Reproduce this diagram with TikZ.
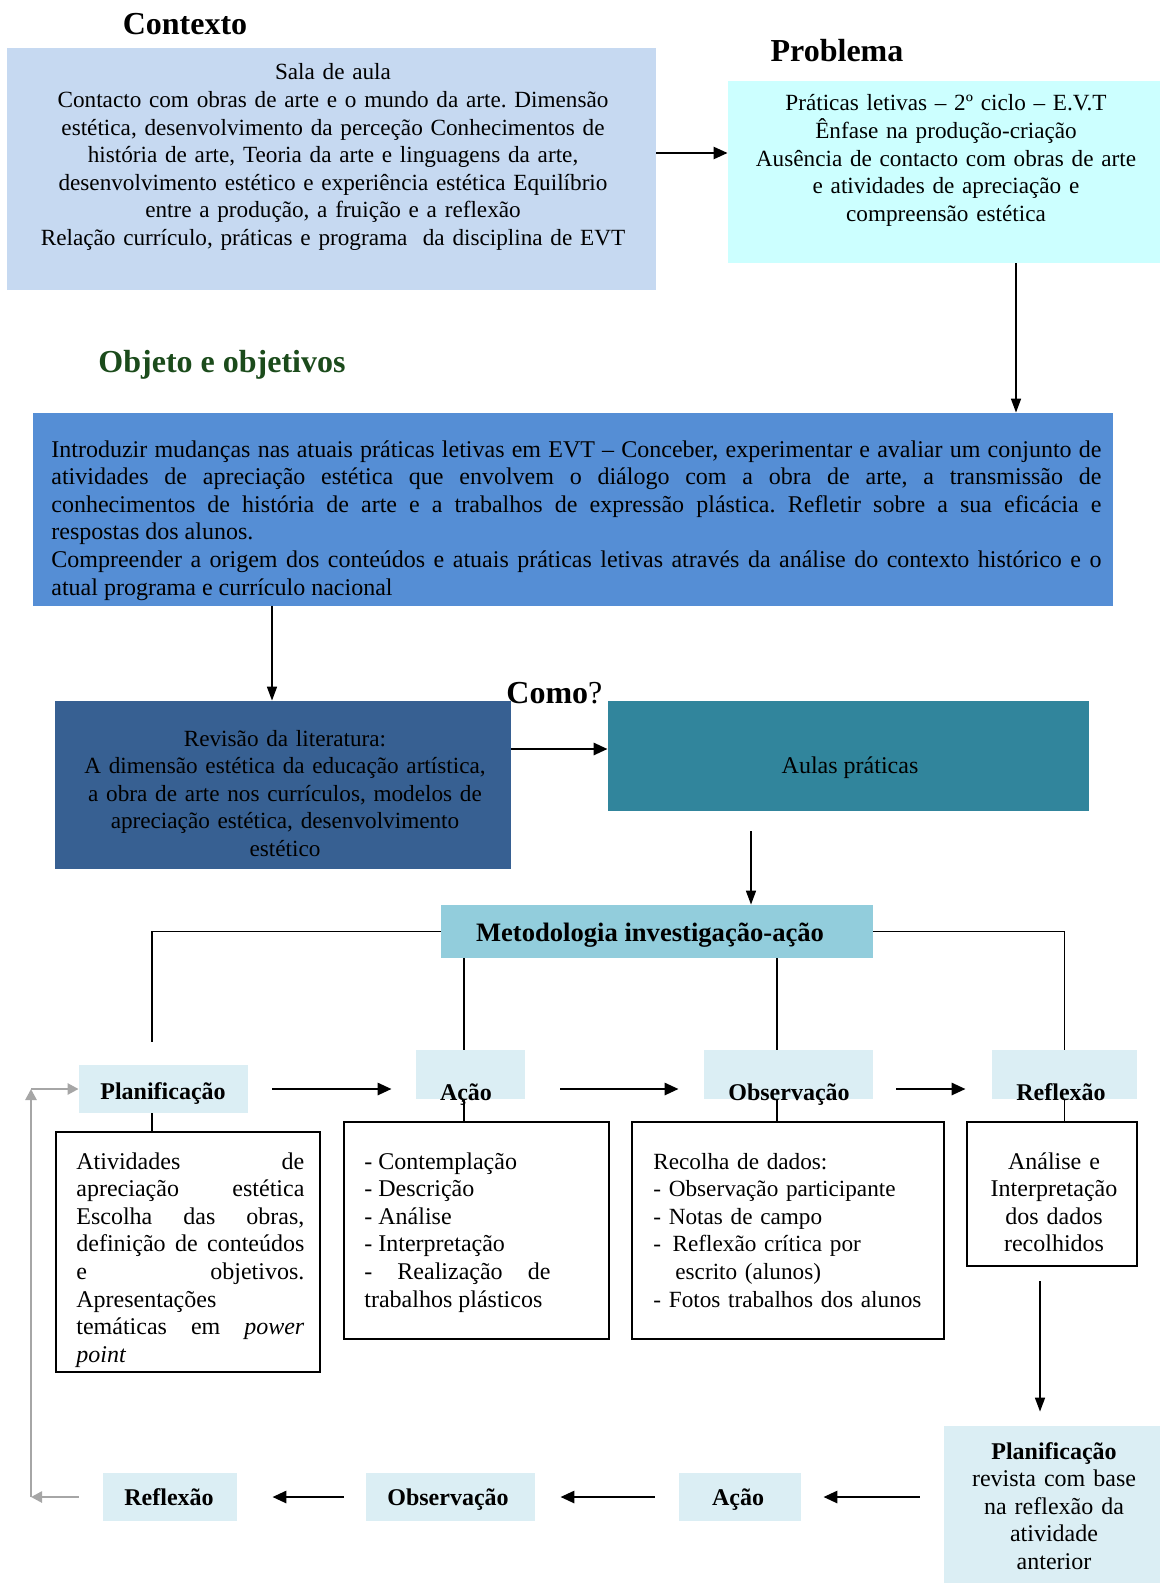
\documentclass[tikz,border=0pt]{standalone}
\usepackage{fontspec}
\setmainfont{Liberation Serif}
\usetikzlibrary{arrows.meta}
\setlength{\parindent}{0pt}
\hyphenpenalty=10000
\exhyphenpenalty=10000
\frenchspacing

\definecolor{ctxfill}{HTML}{C6D9F1}
\definecolor{probfill}{HTML}{CCFFFF}
\definecolor{objfill}{HTML}{558ED5}
\definecolor{revfill}{HTML}{376092}
\definecolor{aulafill}{HTML}{31859C}
\definecolor{metfill}{HTML}{92CDDC}
\definecolor{stagefill}{HTML}{DBEEF4}
\definecolor{titlegreen}{HTML}{1B4B1B}
\definecolor{loopgray}{HTML}{A6A6A6}

\tikzset{
  panel/.style={rectangle, inner sep=0pt, draw=none},
  stage/.style={panel, fill=stagefill},
  frame/.style={rectangle, inner sep=0pt, draw=black, line width=1pt, fill=white},
  body/.style={inner sep=0pt, font=\fontsize{12}{13.8}\selectfont},
  narrowbody/.style={inner sep=0pt, font=\fontsize{11.6}{13.8}\selectfont},
  heading/.style={inner sep=0pt, font=\fontsize{16}{18}\selectfont\bfseries},
  stagetext/.style={inner sep=0pt, font=\fontsize{12}{13.8}\selectfont\bfseries, anchor=base},
  link/.style={line width=0.75pt},
  flow/.style={line width=1.4pt, -{Triangle[length=7pt,width=6pt]}},
  drop/.style={line width=0.8pt, -{Triangle[length=7pt,width=5pt]}},
  loop/.style={line width=1.3pt, draw=loopgray, -{Triangle[length=5.5pt,width=5.5pt]}},
}

\begin{document}
\begin{tikzpicture}[x=0.5pt,y=-0.5pt]
\useasboundingbox (0,0) rectangle (1160,1583);

% section headings
\node[heading, anchor=base] (hctx) at (185,35) {Contexto};
\node[heading, anchor=base] (hprob) at (837,62) {Problema};
\node[heading, anchor=base, text=titlegreen] (hobj) at (222,372) {Objeto e objetivos};

% coloured panels
\node[panel, fill=ctxfill, minimum width=324.5pt, minimum height=121pt] (ctx) at (331.5,169) {};
\node[panel, fill=probfill, minimum width=216pt, minimum height=91pt] (prob) at (944,172) {};
\node[panel, fill=objfill, minimum width=540pt, minimum height=96.5pt] (obj) at (572.5,509.5) {};
\node[panel, fill=revfill, minimum width=228pt, minimum height=84pt] (rev) at (283,785) {};
\node[panel, fill=aulafill, minimum width=240.5pt, minimum height=55pt] (aulas) at (848.5,756) {};
\node[panel, fill=metfill, minimum width=216pt, minimum height=26.5pt] (metod) at (657,931.5) {};

% cycle stages
\node[stage, minimum width=84.5pt, minimum height=24pt] (plan) at (163.5,1089) {};
\node[stage, minimum width=54.5pt, minimum height=24.5pt] (acao) at (470.5,1074.5) {};
\node[stage, minimum width=84.5pt, minimum height=24.5pt] (obs) at (788.5,1074.5) {};
\node[stage, minimum width=72.5pt, minimum height=24.5pt] (refl) at (1064.5,1074.5) {};
\node[stage, minimum width=108pt, minimum height=78.5pt] (plan2) at (1052,1504.5) {};
\node[stage, minimum width=61pt, minimum height=24pt] (acao2) at (740,1497) {};
\node[stage, minimum width=84.5pt, minimum height=24pt] (obs2) at (450.5,1497) {};
\node[stage, minimum width=67pt, minimum height=24pt] (refl2) at (170,1497) {};

% detail frames
\node[frame, minimum width=132pt, minimum height=120pt] (b1) at (188,1252) {};
\node[frame, minimum width=132.5pt, minimum height=108.5pt] (b2) at (476.5,1230.5) {};
\node[frame, minimum width=156pt, minimum height=108.5pt] (b3) at (788,1230.5) {};
\node[frame, minimum width=85pt, minimum height=72pt] (b4) at (1052,1194) {};

% panel texts
\node[narrowbody, anchor=base, text width=310pt, align=center] (ctxtext) at (333,80) {Sala de aula\\
Contacto com obras de arte e o mundo da arte. Dimensão\\
estética, desenvolvimento da perceção Conhecimentos de\\
história de arte, Teoria da arte e linguagens da arte,\\
desenvolvimento estético e experiência estética Equilíbrio\\
entre a produção, a fruição e a reflexão\\
Relação currículo, práticas e programa \ da disciplina de EVT};

\node[narrowbody, anchor=base, text width=210pt, align=center] (probtext) at (946,111) {Práticas letivas – 2º ciclo – E.V.T\\
Ênfase na produção-criação\\
Ausência de contacto com obras de arte\\
e atividades de apreciação e\\
compreensão estética};

\node[body, anchor=base west, text width=525pt, align=justify] (objtext) at (51,457) {Introduzir mudanças nas atuais práticas letivas em EVT – Conceber, experimentar e avaliar um conjunto de\linebreak
atividades de apreciação estética que envolvem o diálogo com a obra de arte, a transmissão de\linebreak
conhecimentos de história de arte e a trabalhos de expressão plástica. Refletir sobre a sua eficácia e\linebreak
respostas dos alunos.\par
Compreender a origem dos conteúdos e atuais práticas letivas através da análise do contexto histórico e o\linebreak
atual programa e currículo nacional};

\node[narrowbody, anchor=base, text width=220pt, align=center] (revtext) at (285,746) {Revisão da literatura:\\
A dimensão estética da educação artística,\\
a obra de arte nos currículos, modelos de\\
apreciação estética, desenvolvimento\\
estético};

\node[body, anchor=base] (aulastext) at (850,773) {Aulas práticas};
\node[inner sep=0pt, anchor=base west, font=\fontsize{16}{18}\selectfont] (como) at (506,703) {\textbf{Como}?};
\node[inner sep=0pt, anchor=base, font=\fontsize{13.3}{15}\selectfont\bfseries] (metodtext) at (650,941) {Metodologia investigação-ação};

% stage labels
\node[stagetext] (plantext) at (163,1099) {Planificação};
\node[stagetext] (acaotext) at (466,1100) {Ação};
\node[stagetext] (obstext) at (789,1100) {Observação};
\node[stagetext] (refltext) at (1061,1100) {Reflexão};
\node[stagetext] (acao2text) at (738,1505) {Ação};
\node[stagetext] (obs2text) at (448,1505) {Observação};
\node[stagetext] (refl2text) at (169,1505) {Reflexão};
\node[body, anchor=base, text width=104pt, align=center] (plan2text) at (1054,1459) {\textbf{Planificação}\\
revista com base\\
na reflexão da\\
atividade\\
anterior};

% detail texts
\node[body, anchor=base west, text width=114pt, align=justify] (b1text) at (76,1169) {Atividades de\linebreak
apreciação estética\linebreak
Escolha das obras,\linebreak
definição de conteúdos\linebreak
e objetivos.\linebreak
Apresentações\\
temáticas em \textit{power}\linebreak
\textit{point}};

\node[body, anchor=base west, text width=93pt, align=justify] (b2text) at (364,1169) {- Contemplação\\
- Descrição\\
- Análise\\
- Interpretação\\
- Realização de\linebreak
trabalhos plásticos};

\node[narrowbody, anchor=base west, text width=145pt, align=left] (b3text) at (653,1169) {Recolha de dados:\\
- Observação participante\\
- Notas de campo\\
- \,Reflexão crítica por\\
\hspace*{11pt}escrito (alunos)\\
- Fotos trabalhos dos alunos};

\node[body, anchor=base, text width=82pt, align=center] (b4text) at (1054,1169) {Análise e\\
Interpretação\\
dos dados\\
recolhidos};

% connectors between panels
\draw[flow, line width=1.2pt] ([yshift=8pt]ctx.east) -- ([yshift=8pt]ctx.east -| prob.west);
\draw[drop] ([xshift=36pt]prob.south) -- ([xshift=36pt]prob.south |- obj.north);
\draw[drop] ([xshift=-5.5pt]rev.north |- obj.south) -- ([xshift=-5.5pt]rev.north);
\draw[flow] ([yshift=18pt]rev.east) -- ([yshift=18pt]rev.east -| aulas.west);
\draw[drop, shorten <=10pt] ([xshift=47pt]metod.north |- aulas.south) -- ([xshift=47pt]metod.north);

% branches of the methodology
\coordinate (planfeed) at (152,1042);
\draw[link] (metod.west) -| (planfeed);
\draw[link] (metod.east) -| (refl.north);
\draw[link] ([xshift=-3.25pt]acao.north |- metod.south) -- ([xshift=-3.25pt]acao.north);
\draw[link] ([xshift=-5.75pt]obs.north |- metod.south) -- ([xshift=-5.75pt]obs.north);

% first cycle
\draw[flow, shorten <=12pt, shorten >=12pt] (plan.east) -- (plan.east -| acao.west);
\draw[flow, shorten <=17.5pt, shorten >=12.5pt] (plan.east -| acao.east) -- (plan.east -| obs.west);
\draw[flow, shorten <=11.5pt, shorten >=13pt] (plan.east -| obs.east) -- (plan.east -| refl.west);

\draw[link] ([xshift=-5.75pt]plan.south) -- ([xshift=-5.75pt]plan.south |- b1.north);
\draw[link] ([xshift=-3.25pt]acao.south) -- ([xshift=-3.25pt]acao.south |- b2.north);
\draw[link] ([xshift=-5.75pt]obs.south) -- ([xshift=-5.75pt]obs.south |- b3.north);
\draw[link] (refl.south) -- (refl.south |- b4.north);

% second cycle
\draw[drop, shorten <=7pt, shorten >=7pt] ([xshift=-6pt]b4.south) -- ([xshift=-6pt]b4.south |- plan2.north);
\draw[flow, shorten <=12pt, shorten >=11pt] (acao2.east -| plan2.west) -- (acao2.east);
\draw[flow, shorten <=12pt, shorten >=12.5pt] (acao2.west) -- (obs2.east);
\draw[flow, shorten <=11pt, shorten >=17.5pt] (obs2.west) -- (refl2.east);

% return loop
\coordinate (loopbase) at (31,1497);
\coordinate (looptop) at (31,1089);
\draw[loop, shorten <=12pt] (refl2.west) -- (loopbase);
\draw[loop] (loopbase) -- (looptop);
\draw[loop] (looptop) -- (plan.west);
\end{tikzpicture}
\end{document}
